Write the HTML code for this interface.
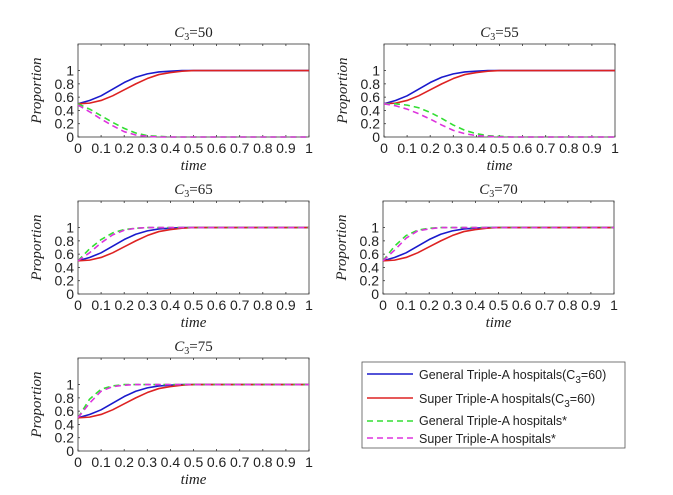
<!DOCTYPE html>
<html><head><meta charset="utf-8"><style>
body{margin:0;background:#fff;}
svg{display:block;font-family:"Liberation Sans",sans-serif;}
</style></head><body>
<svg id="fig" width="673" height="495"></svg>
<script>
const tValues=[0,0.05,0.1,0.15,0.2,0.25,0.3,0.35,0.4,0.45,0.5,0.55,0.6,0.65,0.7,0.75,0.8,0.85,0.9,0.95,1];
const blueSeries=[0.5,0.55,0.62,0.72,0.82,0.9,0.95,0.98,0.99,1,1,1,1,1,1,1,1,1,1,1,1];
const redSeries=[0.5,0.51,0.55,0.62,0.71,0.8,0.88,0.94,0.97,0.99,1,1,1,1,1,1,1,1,1,1,1];
const panelTitles=["50","55","65","70","75"];
const greenSeries=[
[0.5,0.42,0.32,0.22,0.13,0.06,0.02,0.01,0,0,0,0,0,0,0,0,0,0,0,0,0],
[0.5,0.5,0.48,0.44,0.37,0.28,0.18,0.1,0.05,0.02,0.01,0,0,0,0,0,0,0,0,0,0],
[0.5,0.68,0.82,0.92,0.97,0.99,1,1,1,1,1,1,1,1,1,1,1,1,1,1,1],
[0.5,0.72,0.88,0.96,0.99,1,1,1,1,1,1,1,1,1,1,1,1,1,1,1,1],
[0.5,0.78,0.93,0.98,1,1,1,1,1,1,1,1,1,1,1,1,1,1,1,1,1]];
const magentaSeries=[
[0.48,0.38,0.27,0.17,0.08,0.03,0.01,0,0,0,0,0,0,0,0,0,0,0,0,0,0],
[0.5,0.47,0.42,0.35,0.27,0.18,0.1,0.05,0.02,0.01,0,0,0,0,0,0,0,0,0,0,0],
[0.5,0.62,0.77,0.89,0.96,0.99,1,1,1,1,1,1,1,1,1,1,1,1,1,1,1],
[0.5,0.66,0.84,0.95,0.98,1,1,1,1,1,1,1,1,1,1,1,1,1,1,1,1],
[0.5,0.72,0.9,0.97,0.99,1,1,1,1,1,1,1,1,1,1,1,1,1,1,1,1]];
const xTicks=[0,0.1,0.2,0.3,0.4,0.5,0.6,0.7,0.8,0.9,1];
const yTicks=[0,0.2,0.4,0.6,0.8,1];
const NS="http://www.w3.org/2000/svg";
const svg=document.getElementById('fig');
function mk(tag,attrs,parent){const e=document.createElementNS(NS,tag);for(const k in attrs)e.setAttribute(k,attrs[k]);(parent||svg).appendChild(e);return e;}
const boxes=[[78,44],[384,44],[78,201],[383,201],[78,358]];
const W=231,H=93,YMAX=1.4;
boxes.forEach((b,i)=>{
  const [L,T]=b;const g=mk('g',{});
  
  
  const sx=v=>L+v*W, sy=v=>T+H-v/YMAX*H;
  mk('rect',{x:L,y:T,width:W,height:H,fill:'#fff',stroke:'#333','stroke-width':0.8},g);
  xTicks.forEach(v=>{
    mk('line',{x1:sx(v),x2:sx(v),y1:T+H,y2:T+H-2,stroke:'#333','stroke-width':0.8},g);
    mk('line',{x1:sx(v),x2:sx(v),y1:T,y2:T+2,stroke:'#333','stroke-width':0.8},g);
    const t=mk('text',{x:sx(v),y:T+H+16,'text-anchor':'middle','font-size':14,fill:'#222'},g);t.textContent=String(v);
    
    
  });
  yTicks.forEach(v=>{
    mk('line',{x1:L,x2:L+2,y1:sy(v),y2:sy(v),stroke:'#333','stroke-width':0.8},g);
    const t=mk('text',{x:L-4,y:sy(v)+5,'text-anchor':'end','font-size':14,fill:'#222'},g);t.textContent=String(v);
    
    
  });
  const series=[[greenSeries[i],'#33dd33',true],[magentaSeries[i],'#dd33dd',true],[blueSeries,'#1a1acc',false],[redSeries,'#dd2222',false]];
  const order=[2,3,0,1];
  order.forEach(k=>{const [d,c,dash]=series[k];
    const p=mk('polyline',{points:tValues.map((t,j)=>sx(t)+','+sy(d[j])).join(' '),fill:'none',stroke:c,'stroke-width':1.6,'stroke-dasharray':dash?'6,4':'none','stroke-linejoin':'round'},g);
    
    
  });
  const tt=mk('text',{x:L+W/2,y:T-7,'text-anchor':'middle','font-size':15,'font-family':'Liberation Serif,serif',fill:'#222'},g);
  tt.innerHTML='<tspan font-style="italic">C</tspan><tspan font-size="10" dy="3">3</tspan><tspan dy="-3">='+panelTitles[i]+'</tspan>';
  
  
  const xl=mk('text',{x:L+W/2,y:T+H+33,'text-anchor':'middle','font-size':15,'font-style':'italic','font-family':'Liberation Serif,serif',fill:'#222'},g);xl.textContent='time';
  
  
  const yl=mk('text',{x:0,y:0,transform:'translate('+(L-37)+','+(T+H/2)+') rotate(-90)','text-anchor':'middle','font-size':15,'font-style':'italic','font-family':'Liberation Serif,serif',fill:'#222'},g);yl.textContent='Proportion';
  
  
});
</script>
<svg style="position:absolute;left:0;top:0" width="673" height="495">
<rect x="362" y="362" width="263" height="86" fill="#fff" stroke="#555" stroke-width="0.8"/>
<g font-family="Liberation Sans,sans-serif" font-size="12.5" fill="#222">
<line x1="367" x2="413" y1="374" y2="374" stroke="#1a1acc" stroke-width="1.6"/>
<text x="419" y="379">General Triple-A hospitals(C<tspan font-size="10" dy="4">3</tspan><tspan dy="-4">=60)</tspan></text>
<line x1="367" x2="413" y1="398" y2="398" stroke="#dd2222" stroke-width="1.6"/>
<text x="419" y="403">Super Triple-A hospitals(C<tspan font-size="10" dy="4">3</tspan><tspan dy="-4">=60)</tspan></text>
<line x1="367" x2="413" y1="421" y2="421" stroke="#33dd33" stroke-width="1.6" stroke-dasharray="6,4"/>
<text x="419" y="425">General Triple-A hospitals*</text>
<line x1="367" x2="413" y1="438" y2="438" stroke="#dd33dd" stroke-width="1.6" stroke-dasharray="6,4"/>
<text x="419" y="443">Super Triple-A hospitals*</text>
</g></svg>
</body></html>
